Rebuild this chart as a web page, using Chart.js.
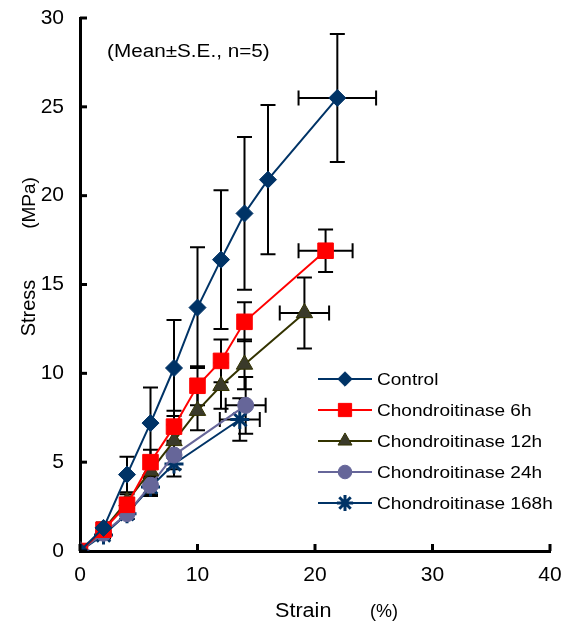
<!DOCTYPE html>
<html><head><meta charset="utf-8">
<script src="https://cdn.jsdelivr.net/npm/chart.js@4"></script>
<style>html,body{margin:0;padding:0;background:#fff}</style>
</head><body>
<canvas id="c" width="565" height="625"></canvas>
<script>
// ---- data ----
const seriesNames = ['Control','Chondroitinase 6h','Chondroitinase 12h','Chondroitinase 24h','Chondroitinase 168h'];

const strainControl = [0, 2, 4, 6, 8, 10, 12, 14, 16, 21.9];
const stressControl = [0, 1.3, 4.3, 7.2, 10.3, 13.7, 16.4, 19.0, 20.9, 25.5];
const stressErrControl = [0, 0.3, 1.0, 2.0, 2.7, 3.4, 3.9, 4.3, 4.2, 3.6];
const strainErrControl = [0, 0, 0, 0, 0, 0, 0, 0, 0, 3.3];

const strain6h = [0, 2, 4, 6, 8, 10, 12, 14, 20.9];
const stress6h = [0, 1.2, 2.6, 5.0, 7.0, 9.3, 10.7, 12.9, 16.9];
const stressErr6h = [0, 0.2, 0.4, 0.7, 0.9, 1.1, 1.2, 1.1, 1.2];
const strainErr6h = [0, 0, 0, 0, 0, 0, 0, 0, 2.3];

const strain12h = [0, 2, 4, 6, 8, 10, 12, 14, 19.1];
const stress12h = [0, 1.2, 2.8, 4.5, 6.2, 7.9, 9.3, 10.5, 13.4];
const stressErr12h = [0, 0.2, 0.4, 0.6, 0.9, 1.1, 1.3, 1.4, 2.0];
const strainErr12h = [0, 0, 0, 0, 0, 0, 0, 0, 2.1];

const strain24h = [0, 2, 4, 6, 8, 14.1];
const stress24h = [0, 1.0, 2.1, 3.7, 5.4, 8.2];
const stressErr24h = [0, 0.2, 0.3, 0.5, 0.8, 1.6];
const strainErr24h = [0, 0, 0, 0, 0, 1.7];

const strain168h = [0, 2, 4, 6, 8, 13.6];
const stress168h = [0, 0.9, 2.1, 3.6, 4.9, 7.4];
const stressErr168h = [0, 0.2, 0.3, 0.5, 0.7, 1.2];
const strainErr168h = [0, 0, 0, 0, 0, 1.7];

const xTicks = [0, 10, 20, 30, 40];
const yTicks = [0, 5, 10, 15, 20, 25, 30];
const noteText = '(Mean\u00B1S.E., n=5)';
const xTitleMain = 'Strain', xTitleUnit = '(%)';
const yTitleMain = 'Stress', yTitleUnit = '(MPa)';

const FONT = "'Liberation Sans', Arial, sans-serif";
const toPts = (xs, ys) => xs.map((x, i) => ({x, y: ys[i]}));

function ds(label, xs, ys, ex, ey, color, fill, style, radius, bw) {
  return {
    label, data: toPts(xs, ys), errX: ex, errY: ey,
    showLine: true, borderColor: color, borderWidth: 2,
    pointStyle: style, pointRadius: radius, pointHoverRadius: radius,
    pointBackgroundColor: fill, pointBorderColor: color, pointBorderWidth: bw,
    tension: 0
  };
}

const datasets = [
  ds(seriesNames[0], strainControl, stressControl, strainErrControl, stressErrControl, '#003366', '#003366', 'rectRot', 8.5, 1),
  ds(seriesNames[1], strain6h, stress6h, strainErr6h, stressErr6h, '#FF0000', '#FF0000', 'rect', 11, 1),
  ds(seriesNames[2], strain12h, stress12h, strainErr12h, stressErr12h, '#333300', '#3a3a2a', 'triangle', 9.5, 1),
  ds(seriesNames[3], strain24h, stress24h, strainErr24h, stressErr24h, '#666699', '#666699', 'circle', 8, 1),
  ds(seriesNames[4], strain168h, stress168h, strainErr168h, stressErr168h, '#003366', '#003366', 'star', 9.5, 3)
];

const errorBars = {
  id: 'errorBars',
  beforeDatasetsDraw(chart) {
    const {ctx, scales: {x, y}} = chart;
    ctx.save();
    ctx.strokeStyle = '#000'; ctx.lineWidth = 2;
    const cap = 7.5;
    chart.data.datasets.forEach(d => {
      d.data.forEach((p, i) => {
        const px = x.getPixelForValue(p.x), py = y.getPixelForValue(p.y);
        const ey = d.errY[i], ex = d.errX[i];
        ctx.beginPath();
        if (ey > 0) {
          const t = y.getPixelForValue(p.y + ey), b = y.getPixelForValue(p.y - ey);
          ctx.moveTo(px, t); ctx.lineTo(px, b);
          ctx.moveTo(px - cap, t); ctx.lineTo(px + cap, t);
          ctx.moveTo(px - cap, b); ctx.lineTo(px + cap, b);
        }
        if (ex > 0) {
          const l = x.getPixelForValue(p.x - ex), r = x.getPixelForValue(p.x + ex);
          ctx.moveTo(l, py); ctx.lineTo(r, py);
          ctx.moveTo(l, py - cap); ctx.lineTo(l, py + cap);
          ctx.moveTo(r, py - cap); ctx.lineTo(r, py + cap);
        }
        ctx.stroke();
      });
    });
    ctx.restore();
  }
};

const decorations = {
  id: 'decorations',
  afterDraw(chart) {
    const {ctx, scales: {x, y}} = chart;
    ctx.save();
    // inside tick marks
    ctx.strokeStyle = '#000'; ctx.lineWidth = 3;
    const x0 = x.getPixelForValue(0), y0 = y.getPixelForValue(0);
    yTicks.forEach(v => { const py = y.getPixelForValue(v); ctx.beginPath(); ctx.moveTo(x0, py); ctx.lineTo(x0 + 7, py); ctx.stroke(); });
    xTicks.forEach(v => { const px = x.getPixelForValue(v); ctx.beginPath(); ctx.moveTo(px, y0); ctx.lineTo(px, y0 - 7); ctx.stroke(); });

    ctx.fillStyle = '#000';
    ctx.textBaseline = 'alphabetic';
    const stretched = (txt, tx, ty, size, sx) => {
      ctx.save(); ctx.translate(tx, ty); ctx.scale(sx, 1);
      ctx.font = size + 'px ' + FONT; ctx.textAlign = 'left';
      ctx.fillText(txt, 0, 0); ctx.restore();
    };
    // note
    stretched(noteText, 107, 57, 18, 1.15);
    // axis titles
    stretched(xTitleMain, 275, 617, 20, 1.08);
    stretched(xTitleUnit, 370, 617, 18, 1.0);
    ctx.save(); ctx.translate(35, 0); ctx.rotate(-Math.PI / 2);
    ctx.font = '20px ' + FONT; ctx.textAlign = 'center';
    ctx.fillText(yTitleMain, -308, 0);
    ctx.font = '19px ' + FONT;
    ctx.fillText(yTitleUnit, -203, 0);
    ctx.restore();

    // legend
    const rows = [379, 410, 441, 472, 503];
    chart.data.datasets.forEach((d, i) => {
      const ly = rows[i];
      ctx.strokeStyle = d.borderColor; ctx.lineWidth = 2;
      ctx.beginPath(); ctx.moveTo(318, ly); ctx.lineTo(372, ly); ctx.stroke();
      ctx.fillStyle = d.pointBackgroundColor; ctx.strokeStyle = d.pointBorderColor; ctx.lineWidth = d.pointBorderWidth;
      Chart.helpers.drawPoint(ctx, {pointStyle: d.pointStyle, radius: d.pointRadius * 0.85, borderWidth: d.pointBorderWidth, rotation: 0}, 345, ly);
      ctx.fillStyle = '#000';
      ctx.save(); ctx.translate(377, ly + 6); ctx.scale(1.12, 1);
      ctx.font = '17px ' + FONT; ctx.textAlign = 'left';
      ctx.fillText(d.label, 0, 0); ctx.restore();
    });
    ctx.restore();
  }
};

new Chart(document.getElementById('c'), {
  type: 'scatter',
  data: {datasets},
  plugins: [errorBars, decorations],
  options: {
    responsive: false, animation: false,
    layout: {padding: {top: 18, right: 15, left: 0, bottom: 0}},
    plugins: {legend: {display: false}, tooltip: {enabled: false}},
    scales: {
      x: {
        type: 'linear', min: 0, max: 40,
        afterFit: s => { s.height = 74; s.paddingLeft = 0; s.paddingRight = 0; },
        afterBuildTicks: s => { s.ticks = xTicks.map(v => ({value: v})); },
        grid: {display: false, drawTicks: false},
        border: {display: true, color: '#000', width: 3},
        ticks: {color: '#000', font: {family: FONT, size: 21}, padding: 12, maxRotation: 0}
      },
      y: {
        type: 'linear', min: 0, max: 30,
        afterFit: s => { s.width = 80; s.paddingTop = 0; s.paddingBottom = 0; },
        afterBuildTicks: s => { s.ticks = yTicks.map(v => ({value: v})); },
        grid: {display: false, drawTicks: false},
        border: {display: true, color: '#000', width: 3},
        ticks: {color: '#000', font: {family: FONT, size: 21}, padding: 16}
      }
    }
  }
});
</script>
</body></html>
